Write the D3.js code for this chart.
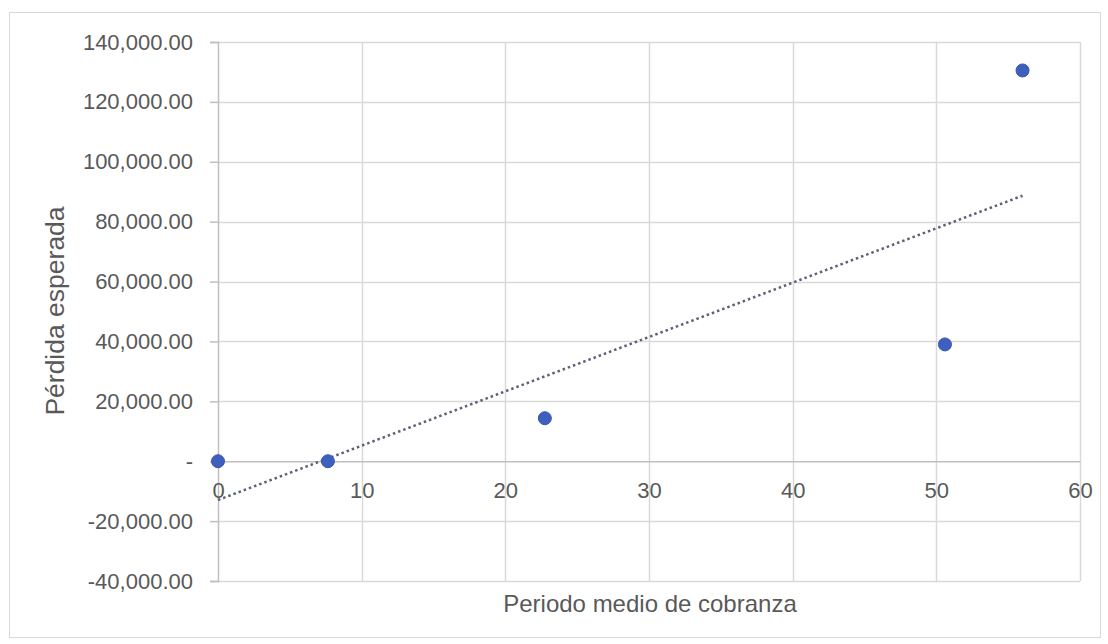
<!DOCTYPE html>
<html><head><meta charset="utf-8">
<script src="https://cdn.jsdelivr.net/npm/d3@7"></script>
<style>body{margin:0;background:#fff}svg{display:block}text{font-family:"Liberation Sans",Arial,sans-serif;fill:#595959}</style>
</head><body>
<svg id="c" width="1108" height="644"></svg>
<script>
const xValues = [0, 7.65, 22.75, 50.6, 56.0];
const yValues = [0, 0, 14360, 39000, 130500];
const xTicks = [0, 10, 20, 30, 40, 50, 60];
const yTicks = [-40000, -20000, 0, 20000, 40000, 60000, 80000, 100000, 120000, 140000];
const xTitle = "Periodo medio de cobranza";
const yTitle = "Pérdida esperada";

const svg = d3.select("#c");
svg.append("rect").attr("x",9.5).attr("y",12.5).attr("width",1091).attr("height",625)
  .attr("fill","#fff").attr("stroke","#d9d9d9").attr("stroke-width",1);

const x = d3.scaleLinear().domain([0,60]).range([218,1080]);
const y = d3.scaleLinear().domain([-40000,140000]).range([581,42]);

const fmt = v => v === 0 ? "-" : d3.format(",.2f")(v).replace("\u2212","-");

// horizontal gridlines
svg.append("g").selectAll("line").data(yTicks.filter(v=>v!==0)).join("line")
  .attr("x1",x(0)).attr("x2",x(60)).attr("y1",d=>Math.round(y(d))+0.5).attr("y2",d=>Math.round(y(d))+0.5)
  .attr("stroke","#d9d9d9").attr("stroke-width",1.5);
// vertical gridlines
svg.append("g").selectAll("line").data(xTicks.filter(v=>v!==0)).join("line")
  .attr("x1",d=>Math.round(x(d))+0.5).attr("x2",d=>Math.round(x(d))+0.5).attr("y1",y(140000)).attr("y2",y(-40000))
  .attr("stroke","#d9d9d9").attr("stroke-width",1.5);

// y axis
const yAxis = d3.axisLeft(y).tickValues(yTicks).tickFormat(fmt).tickSize(8).tickPadding(17);
const gy = svg.append("g").attr("transform",`translate(${x(0)},0)`).call(yAxis);
gy.select(".domain").attr("stroke","#bfbfbf").attr("stroke-width",1.5);
gy.selectAll(".tick line").attr("stroke","#bfbfbf").attr("stroke-width",1.5);
gy.selectAll(".tick text").style("font-size","22px").attr("fill","#595959");

// x axis at y=0
const xAxis = d3.axisBottom(x).tickValues(xTicks).tickFormat(d3.format("d")).tickSize(0).tickPadding(21);
const gx = svg.append("g").attr("transform",`translate(0,${y(0)})`).call(xAxis);
gx.select(".domain").attr("stroke","#bfbfbf").attr("stroke-width",1.5);
gx.selectAll(".tick text").style("font-size","22px").attr("fill","#595959");

// trendline (least squares from data)
const n = xValues.length;
const mx = d3.mean(xValues), my = d3.mean(yValues);
let sxy=0,sxx=0;
for(let i=0;i<n;i++){sxy+=(xValues[i]-mx)*(yValues[i]-my);sxx+=(xValues[i]-mx)**2;}
const slope = sxy/sxx, icpt = my - slope*mx;
const x0 = d3.min(xValues), x1 = d3.max(xValues);
svg.append("line").attr("x1",x(x0)).attr("y1",y(icpt+slope*x0)).attr("x2",x(x1)).attr("y2",y(icpt+slope*x1))
  .attr("stroke","#5a6178").attr("stroke-width",2.5).attr("stroke-dasharray","2.5,3");

// points
svg.append("g").selectAll("circle").data(d3.range(n)).join("circle")
  .attr("cx",i=>x(xValues[i])).attr("cy",i=>y(yValues[i])).attr("r",6.5)
  .attr("fill","#3f5fbf").attr("stroke","#3a55ad").attr("stroke-width",1);

// titles
svg.append("text").attr("x",650).attr("y",612).attr("text-anchor","middle").style("font-size","24px").text(xTitle);
svg.append("text").attr("transform","translate(64,311) rotate(-90)").attr("text-anchor","middle").style("font-size","26.5px").text(yTitle);
</script>
</body></html>
